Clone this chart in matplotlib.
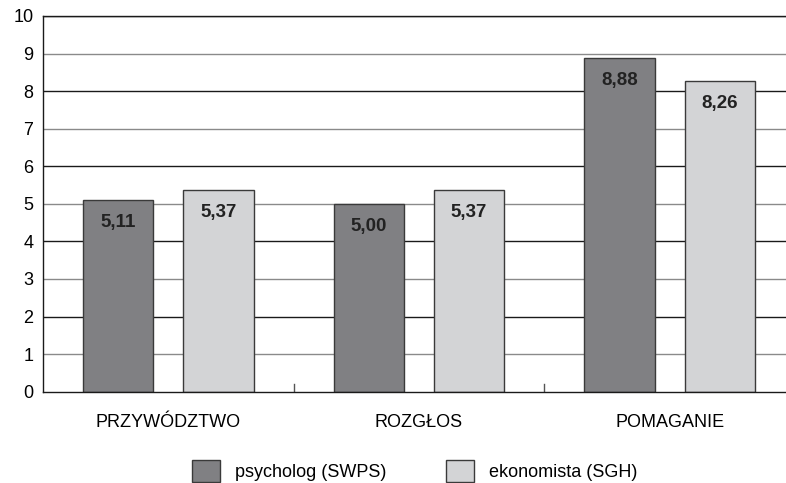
import numpy as np
import matplotlib.pyplot as plt
from matplotlib.patches import Patch

plt.rcParams['font.family'] = ['Liberation Sans', 'DejaVu Sans']

# dane
kategorie = ['PRZYWÓDZTWO', 'ROZGŁOS', 'POMAGANIE']
psycholog = [5.11, 5.00, 8.88]
ekonomista = [5.37, 5.37, 8.26]
etykiety_serii = ['psycholog (SWPS)', 'ekonomista (SGH)']

kolor_ciemny = '#808083'
kolor_jasny = '#d3d4d6'
kolor_krawedzi = '#3a3a3a'

fig = plt.figure(figsize=(7.86, 4.83), dpi=100)
ax = fig.add_axes([43 / 786, 1 - 391.7 / 483, 752 / 786, 375.7 / 483])

x = np.arange(len(kategorie))
szer = 0.28
przes = 0.2

# linie siatki: nieparzyste szare, parzyste czarne
for v in range(1, 11):
    ax.axhline(v, color='#8a8a8a' if v % 2 else '#1a1a1a', lw=1.0, zorder=1)

b1 = ax.bar(x - przes, psycholog, szer, color=kolor_ciemny, edgecolor=kolor_krawedzi,
            lw=1.0, zorder=2)
b2 = ax.bar(x + przes, ekonomista, szer, color=kolor_jasny, edgecolor=kolor_krawedzi,
            lw=1.0, zorder=2)

for bars, vals in [(b1, psycholog), (b2, ekonomista)]:
    for b, v in zip(bars, vals):
        ax.text(b.get_x() + b.get_width() / 2, v - 0.6, f'{v:.2f}'.replace('.', ','),
                ha='center', va='center', fontsize=13.5, fontweight='bold',
                color='#222222', zorder=3)

ax.set_xlim(-0.5, 2.5)
ax.set_ylim(0, 10)
ax.set_yticks(range(0, 11))
ax.tick_params(axis='y', length=0, labelsize=13, pad=7)
ax.set_xticks(x)
ax.set_xticklabels(kategorie, fontsize=13)
ax.tick_params(axis='x', length=0, pad=16)

# kreski między kategoriami
for sep in [0.5, 1.5]:
    ax.plot([sep, sep], [0, 0.2], color='#555555', lw=1.0, zorder=2)

for s in ['top', 'left', 'bottom']:
    ax.spines[s].set_color('#1a1a1a')
    ax.spines[s].set_linewidth(1.0)
ax.spines['right'].set_visible(False)

uchwyty = [Patch(facecolor=kolor_ciemny, edgecolor=kolor_krawedzi),
           Patch(facecolor=kolor_jasny, edgecolor=kolor_krawedzi)]
fig.legend(uchwyty, etykiety_serii, loc='lower left', ncol=2, frameon=False,
           fontsize=13, bbox_to_anchor=(0.235, -0.0135), borderaxespad=0,
           handlelength=1.55, handleheight=1.55, columnspacing=3.3,
           handletextpad=0.83)

fig.savefig('out.png', dpi=100)
